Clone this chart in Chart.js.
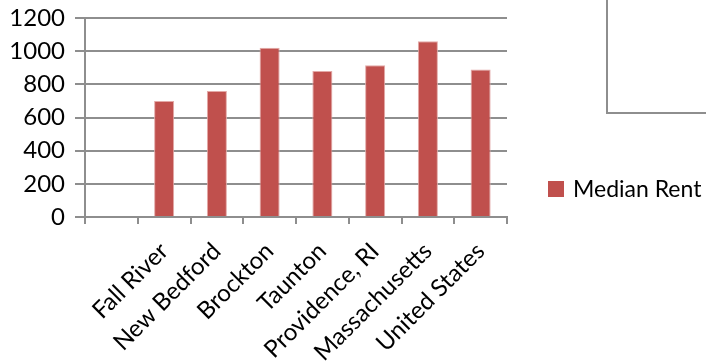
<!DOCTYPE html>
<html>
<head>
<meta charset="utf-8">
<script src="https://cdn.jsdelivr.net/npm/chart.js@4"></script>
<style>
  html, body { margin: 0; padding: 0; background: #fff; }
  #wrap { width: 706px; height: 364px; position: relative; }
</style>
</head>
<body>
<div id="wrap"><canvas id="barChart"></canvas></div>
<script>
  const categories = ['', 'Fall River', 'New Bedford', 'Brockton', 'Taunton', 'Providence, RI', 'Massachusetts', 'United States'];
  const medianRent = [null, 700, 760, 1020, 880, 915, 1060, 890];
  const yTicks = [0, 200, 400, 600, 800, 1000, 1200];

  const FONT = 'Lato, "Open Sans", sans-serif';
  const GRID = '#8e8e8e';

  // legend on the right + the stray frame in the top-right corner
  const extras = {
    id: 'extras',
    afterDraw(chart) {
      const c = chart.ctx;
      const ds = chart.data.datasets[0];
      c.save();
      c.strokeStyle = GRID;
      c.lineWidth = 2;
      c.beginPath();
      c.moveTo(607, 0);
      c.lineTo(607, 113);
      c.lineTo(706, 113);
      c.stroke();
      c.fillStyle = ds.backgroundColor;
      c.fillRect(548, 181, 16, 16);
      c.fillStyle = '#000';
      c.font = '23px ' + FONT;
      c.textBaseline = 'middle';
      c.fillText(ds.label, 573, 190);
      c.restore();
    }
  };

  const ctx = document.getElementById('barChart');
  new Chart(ctx, {
    type: 'bar',
    data: {
      labels: categories,
      datasets: [{
        label: 'Median Rent',
        data: medianRent,
        backgroundColor: '#C0504D',
        borderColor: '#e3a9a7',
        borderWidth: { left: 1, right: 1, top: 1, bottom: 0 },
        categoryPercentage: 1,
        barPercentage: 0.38
      }]
    },
    options: {
      responsive: true,
      maintainAspectRatio: false,
      animation: false,
      layout: { padding: { top: 18, right: 199, left: 0, bottom: 0 } },
      plugins: { legend: { display: false }, tooltip: { enabled: false } },
      scales: {
        x: {
          afterFit: s => { s.height = 147; },
          grid: { drawOnChartArea: false, color: GRID, lineWidth: 2, tickLength: 7, tickColor: GRID, offset: true },
          border: { color: GRID, width: 2 },
          ticks: { color: '#000', font: { family: FONT, size: 24 }, minRotation: 45, maxRotation: 45, autoSkip: false, padding: 13 }
        },
        y: {
          min: 0,
          max: 1200,
          afterFit: s => { s.width = 85; },
          afterBuildTicks: s => { s.ticks = yTicks.map(v => ({ value: v })); },
          grid: { color: GRID, lineWidth: 2, tickLength: 10 },
          border: { color: GRID, width: 2 },
          ticks: { color: '#000', font: { family: FONT, size: 24, lineHeight: 0.5 }, padding: 10, callback: v => String(v) }
        }
      }
    },
    plugins: [extras]
  });
</script>
</body>
</html>
